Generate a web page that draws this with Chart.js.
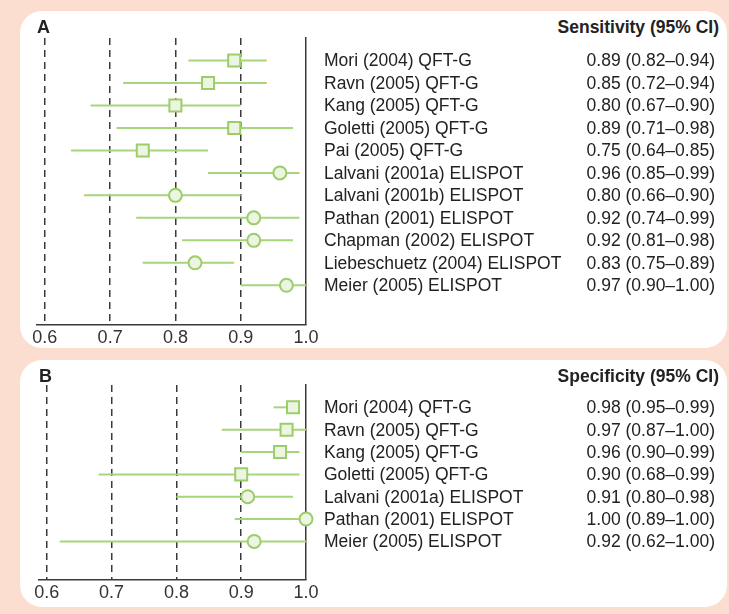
<!DOCTYPE html>
<html>
<head>
<meta charset="utf-8">
<script src="https://cdn.jsdelivr.net/npm/chart.js@4.4.1/dist/chart.umd.min.js"></script>
<style>
  body { margin: 0; background: #fbded0; }
  #page { position: relative; width: 729px; height: 614px; overflow: hidden; background: #fbded0;
          font-family: "Liberation Sans", Arial, Helvetica, sans-serif; color: #222; }
  .panel { position: absolute; left: 20px; width: 707px; background: #fff; border-radius: 22px; }
  #panelA { top: 11px; height: 337px; }
  #panelB { top: 360px; height: 247px; }
  canvas { position: absolute; left: 0; }
  #chartA { top: 0; }
  #chartB { top: 350px; }
  .txt { position: absolute; font-size: 17.5px; line-height: 20px; white-space: nowrap; }
  .name { left: 324px; }
  .val { right: 14px; text-align: right; }
  .head { right: 10px; font-weight: bold; }
  .letter { font-weight: bold; font-size: 18px; }
</style>
</head>
<body>
<div id="page">
  <div class="panel" id="panelA"></div>
  <div class="panel" id="panelB"></div>
  <canvas id="chartA" width="330" height="354"></canvas>
  <canvas id="chartB" width="330" height="263"></canvas>
</div>
<script>
// Sensitivity (panel A)
const sensStudies = ["Mori (2004) QFT-G", "Ravn (2005) QFT-G", "Kang (2005) QFT-G", "Goletti (2005) QFT-G",
  "Pai (2005) QFT-G", "Lalvani (2001a) ELISPOT", "Lalvani (2001b) ELISPOT", "Pathan (2001) ELISPOT",
  "Chapman (2002) ELISPOT", "Liebeschuetz (2004) ELISPOT", "Meier (2005) ELISPOT"];
const sensEst = [0.89, 0.85, 0.80, 0.89, 0.75, 0.96, 0.80, 0.92, 0.92, 0.83, 0.97];
const sensLow = [0.82, 0.72, 0.67, 0.71, 0.64, 0.85, 0.66, 0.74, 0.81, 0.75, 0.90];
const sensHigh = [0.94, 0.94, 0.90, 0.98, 0.85, 0.99, 0.90, 0.99, 0.98, 0.89, 1.00];
const sensTest = ["QFT-G", "QFT-G", "QFT-G", "QFT-G", "QFT-G", "ELISPOT", "ELISPOT", "ELISPOT", "ELISPOT", "ELISPOT", "ELISPOT"];

// Specificity (panel B)
const specStudies = ["Mori (2004) QFT-G", "Ravn (2005) QFT-G", "Kang (2005) QFT-G", "Goletti (2005) QFT-G",
  "Lalvani (2001a) ELISPOT", "Pathan (2001) ELISPOT", "Meier (2005) ELISPOT"];
const specEst = [0.98, 0.97, 0.96, 0.90, 0.91, 1.00, 0.92];
const specLow = [0.95, 0.87, 0.90, 0.68, 0.80, 0.89, 0.62];
const specHigh = [0.99, 1.00, 0.99, 0.99, 0.98, 1.00, 1.00];
const specTest = ["QFT-G", "QFT-G", "QFT-G", "QFT-G", "ELISPOT", "ELISPOT", "ELISPOT"];

const xTicks = [0.6, 0.7, 0.8, 0.9, 1.0];

const lineGreen = "#a6d57c";
const markerEdge = "#9ccd68";
const markerFill = "#ecf4e2";
const axisColor = "#3a3a3a";

function makeForest(canvasId, pad, est, low, high, test, yMax) {
  // one little line per study for the confidence interval
  const ciSets = est.map((v, i) => ({
    type: "line",
    data: [{ x: low[i], y: i }, { x: high[i], y: i }],
    borderColor: lineGreen,
    borderWidth: 2,
    pointRadius: 0,
    clip: false,
    order: 2
  }));

  const pointSet = {
    type: "scatter",
    data: est.map((v, i) => ({ x: v, y: i })),
    pointStyle: ctx => test[ctx.dataIndex] === "QFT-G" ? "rect" : "circle",
    pointRadius: ctx => test[ctx.dataIndex] === "QFT-G" ? 8.5 : 6.5,
    backgroundColor: markerFill,
    borderColor: markerEdge,
    borderWidth: 2,
    clip: false,
    order: 1
  };

  return new Chart(document.getElementById(canvasId), {
    type: "scatter",
    data: { datasets: [...ciSets, pointSet] },
    options: {
      responsive: false,
      animation: false,
      events: [],
      layout: { padding: pad },
      plugins: { legend: { display: false }, tooltip: { enabled: false } },
      scales: {
        x: {
          type: "linear",
          min: 0.588,
          max: 1.0,
          afterBuildTicks: axis => { axis.ticks = xTicks.map(v => ({ value: v })); },
          ticks: {
            callback: v => v.toFixed(1),
            color: "#333",
            padding: 3,
            maxRotation: 0,
            font: { family: "'Liberation Sans', Arial, sans-serif", size: 18 }
          },
          grid: {
            drawTicks: false,
            lineWidth: 1.5,
            color: ctx => (ctx.tick && ctx.tick.value >= 1) ? "rgba(0,0,0,0)" : axisColor
          },
          border: { display: true, color: axisColor, width: 1.5, dash: [7, 5] }
        },
        y: {
          type: "linear",
          position: "right",
          reverse: true,
          min: -1,
          max: yMax,
          ticks: { display: false },
          grid: { display: false, drawTicks: false },
          border: { display: true, color: axisColor, width: 1.5 }
        }
      }
    }
  });
}

function addText(chart, topOffset, studies, est, low, high, header, letter, headY) {
  const page = document.getElementById("page");
  const add = (cls, text, y) => {
    const d = document.createElement("div");
    d.className = "txt " + cls;
    d.textContent = text;
    d.style.top = (y - 10) + "px";
    page.appendChild(d);
    return d;
  };
  studies.forEach((s, i) => {
    const y = chart.scales.y.getPixelForValue(i) + topOffset;
    add("name", s, y);
    add("val", `${est[i].toFixed(2)} (${low[i].toFixed(2)}–${high[i].toFixed(2)})`, y);
  });
  add("head", header, headY);
  const l = add("letter", letter, headY);
  l.style.left = (chart.chartArea.left) + "px";
}

document.addEventListener("DOMContentLoaded", () => {
  const chartA = makeForest("chartA", { left: 37, top: 38, right: 24, bottom: 2 },
    sensEst, sensLow, sensHigh, sensTest, 11.74);
  const chartB = makeForest("chartB", { left: 39, top: 35, right: 24, bottom: 6 },
    specEst, specLow, specHigh, specTest, 7.7);

  addText(chartA, 0, sensStudies, sensEst, sensLow, sensHigh, "Sensitivity (95% CI)", "A", 27);
  addText(chartB, 350, specStudies, specEst, specLow, specHigh, "Specificity (95% CI)", "B", 376);
});
</script>
</body>
</html>
